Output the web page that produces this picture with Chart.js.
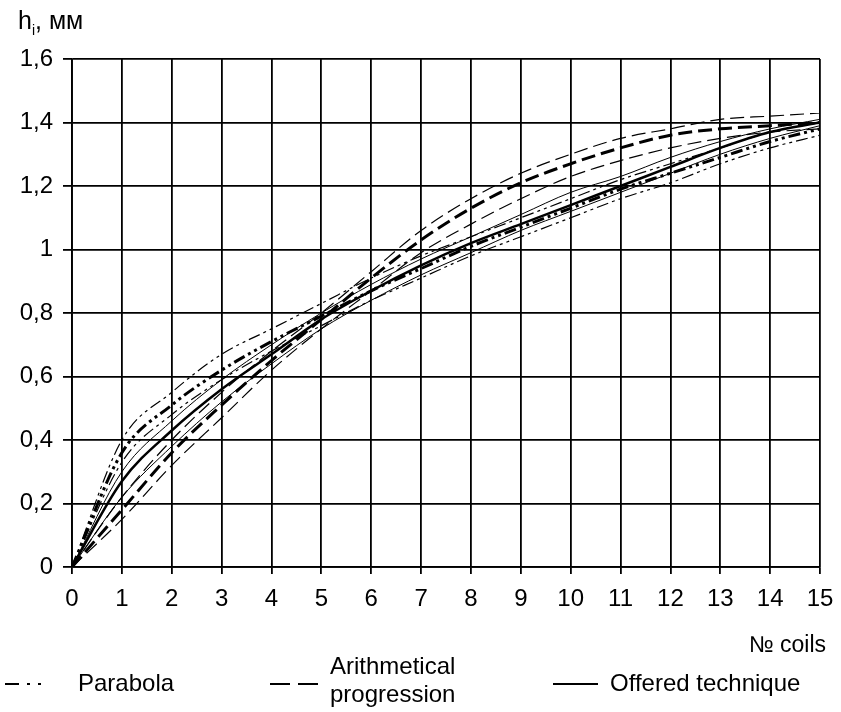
<!DOCTYPE html>
<html>
<head>
<meta charset="utf-8">
<script src="https://cdn.jsdelivr.net/npm/chart.js@4.4.1/dist/chart.umd.min.js"></script>
<style>
  html, body { margin: 0; padding: 0; background: #fff; }
  #wrap { position: relative; width: 841px; height: 712px; font-family: "Liberation Sans", Arial, sans-serif; color: #000; }
  #c { position: absolute; left: 0; top: 0; }
  .t { position: absolute; white-space: nowrap; font-size: 24px; line-height: 1; }
</style>
</head>
<body>
<div id="wrap">
  <canvas id="c" width="841" height="712"></canvas>
  <div class="t" style="left:18px; top:8px; font-size:25px;">h<sub style="font-size:14px;">i</sub>, мм</div>
  <div class="t" style="right:15px; top:633px; font-size:23px;">№ coils</div>
  <div class="t" style="left:78px; top:671px;">Parabola</div>
  <div class="t" style="left:330px; top:654px;">Arithmetical</div>
  <div class="t" style="left:330px; top:682px;">progression</div>
  <div class="t" style="left:610px; top:671px;">Offered technique</div>
</div>
<script>
// ---- data ----
const xCoils = [0, 1, 2, 3, 4, 5, 6, 7, 8, 9, 10, 11, 12, 13, 14, 15];
const yTicks = [0, 0.2, 0.4, 0.6, 0.8, 1.0, 1.2, 1.4, 1.6];

// Parabola (dash-dot)
const parabolaUpper = [0, 0.40, 0.55, 0.67, 0.75, 0.83, 0.91, 0.98, 1.04, 1.10, 1.16, 1.22, 1.27, 1.32, 1.37, 1.40];
const parabolaMid   = [0, 0.36, 0.51, 0.62, 0.71, 0.79, 0.87, 0.94, 1.01, 1.07, 1.13, 1.19, 1.24, 1.29, 1.34, 1.38];
const parabolaLower = [0, 0.33, 0.48, 0.59, 0.68, 0.76, 0.84, 0.91, 0.98, 1.04, 1.10, 1.16, 1.21, 1.27, 1.32, 1.36];

// Arithmetical progression (dashed)
const arithUpper = [0, 0.22, 0.40, 0.55, 0.68, 0.80, 0.93, 1.06, 1.16, 1.24, 1.30, 1.35, 1.38, 1.41, 1.42, 1.43];
const arithMid   = [0, 0.18, 0.36, 0.51, 0.65, 0.78, 0.91, 1.03, 1.13, 1.21, 1.27, 1.32, 1.36, 1.38, 1.39, 1.40];
const arithLower = [0, 0.15, 0.32, 0.47, 0.62, 0.75, 0.87, 0.99, 1.08, 1.16, 1.23, 1.28, 1.32, 1.35, 1.37, 1.38];

// Offered technique (solid)
const offeredUpper = [0, 0.30, 0.46, 0.59, 0.70, 0.80, 0.89, 0.97, 1.04, 1.11, 1.18, 1.23, 1.29, 1.34, 1.38, 1.41];
const offeredMid   = [0, 0.27, 0.43, 0.56, 0.67, 0.78, 0.87, 0.95, 1.02, 1.08, 1.14, 1.20, 1.26, 1.32, 1.37, 1.40];
const offeredLower = [0, 0.22, 0.38, 0.52, 0.64, 0.75, 0.84, 0.92, 0.99, 1.06, 1.12, 1.18, 1.24, 1.30, 1.35, 1.39];

// ---- build ----
const DASHDOT = [12, 4, 3, 4, 3, 4];
const DASHED = [14, 6];
const SOLID = [];
function ds(label, arr, dash, width) {
  return {
    label: label,
    data: xCoils.map((x, i) => ({ x: x, y: arr[i] })),
    borderColor: '#000',
    borderWidth: width,
    borderDash: dash,
    pointRadius: 0,
    fill: false,
    cubicInterpolationMode: 'monotone'
  };
}
const datasets = [
  ds('Parabola upper', parabolaUpper, DASHDOT, 1.2),
  ds('Parabola', parabolaMid, DASHDOT, 3),
  ds('Parabola lower', parabolaLower, DASHDOT, 1.2),
  ds('Arithmetical upper', arithUpper, DASHED, 1.2),
  ds('Arithmetical progression', arithMid, DASHED, 3),
  ds('Arithmetical lower', arithLower, DASHED, 1.2),
  ds('Offered upper', offeredUpper, SOLID, 1),
  ds('Offered technique', offeredMid, SOLID, 2.5),
  ds('Offered lower', offeredLower, SOLID, 1)
];

// legend samples drawn on canvas
const legendSamples = {
  id: 'legendSamples',
  afterDraw(chart) {
    const ctx = chart.ctx;
    ctx.save();
    ctx.strokeStyle = '#000';
    ctx.lineWidth = 2;
    const y = 684;
    const items = [[5, 50, [14, 8, 3, 8, 3, 20]], [270, 318, [20, 8]], [553, 598, SOLID]];
    items.forEach(([a, b, d]) => {
      ctx.setLineDash(d);
      ctx.beginPath(); ctx.moveTo(a, y); ctx.lineTo(b, y); ctx.stroke();
    });
    ctx.restore();
  }
};

const fmt = v => Number(v.toFixed(1)).toString().replace('.', ',');

new Chart(document.getElementById('c'), {
  type: 'line',
  data: { datasets: datasets },
  options: {
    responsive: false,
    animation: false,
    layout: { padding: { top: 59, right: 21, left: 0, bottom: 0 } },
    plugins: { legend: { display: false }, tooltip: { enabled: false } },
    scales: {
      x: {
        type: 'linear', min: 0, max: 15,
        afterBuildTicks: s => { s.ticks = xCoils.map(v => ({ value: v })); },
        afterFit: s => { s.height = 145; s.paddingRight = 0; s.paddingLeft = 0; },
        grid: { color: '#000', lineWidth: 1.8, tickLength: 7, drawTicks: true },
        border: { color: '#000', width: 1.8 },
        ticks: { color: '#000', font: { family: 'Liberation Sans, Arial', size: 24 }, padding: 11, maxRotation: 0, autoSkip: false }
      },
      y: {
        type: 'linear', min: 0, max: 1.6,
        afterBuildTicks: s => { s.ticks = yTicks.map(v => ({ value: v })); },
        afterFit: s => { s.width = 72; s.paddingTop = 0; s.paddingBottom = 0; },
        grid: { color: '#000', lineWidth: 1.8, tickLength: 9, drawTicks: true },
        border: { color: '#000', width: 1.8 },
        ticks: { color: '#000', font: { family: 'Liberation Sans, Arial', size: 24 }, padding: 10, callback: v => fmt(v), autoSkip: false }
      }
    }
  },
  plugins: [legendSamples]
});
</script>
</body>
</html>
